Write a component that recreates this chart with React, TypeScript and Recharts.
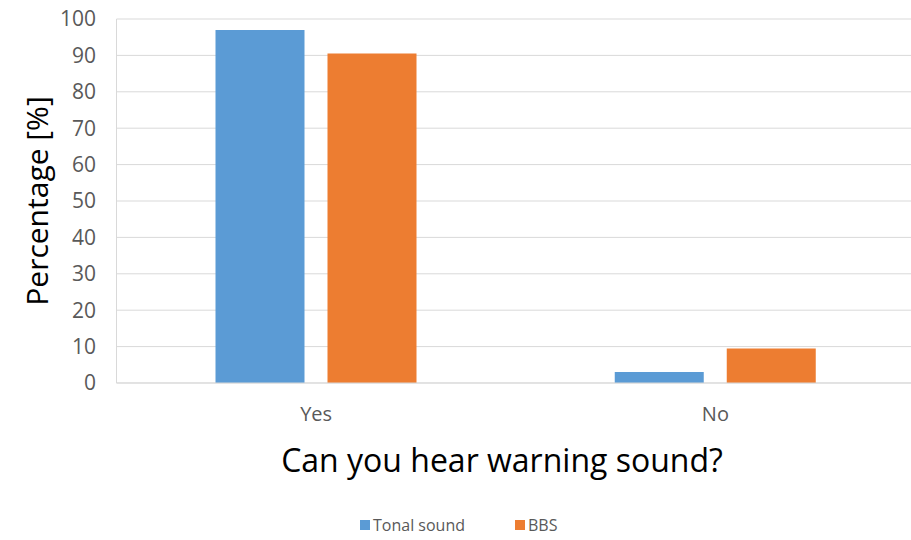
import { BarChart, Bar, XAxis, YAxis, CartesianGrid, Legend } from "recharts";

const categories = ["Yes", "No"];
const tonalSound = [97, 3];
const bbs = [90.5, 9.5];
const yTicks = [0, 10, 20, 30, 40, 50, 60, 70, 80, 90, 100];

const BLUE = "#5b9bd5";
const ORANGE = "#ed7d31";
const GRID = "#d9d9d9";
const INK = "#595959";
const FONT = "'Open Sans', 'Noto Sans', sans-serif";

const data = categories.map((c, i) => ({ answer: c, tonal: tonalSound[i], bbs: bbs[i] }));

function LegendContent() {
  const items = [
    { name: "Tonal sound", color: BLUE },
    { name: "BBS", color: ORANGE },
  ];
  return (
    <div style={{ display: "flex", paddingLeft: 360, paddingTop: 14, fontFamily: FONT, fontSize: 16, color: INK }}>
      {items.map((it) => (
        <div key={it.name} style={{ display: "flex", alignItems: "center", marginRight: 50 }}>
          <span style={{ width: 10, height: 10, background: it.color, marginRight: 3, display: "inline-block" }} />
          <span>{it.name}</span>
        </div>
      ))}
    </div>
  );
}

export default function App() {
  return (
    <div style={{ position: "absolute", left: 0, top: 0, width: 911, height: 540, overflow: "hidden", background: "#fff" }}>
      <BarChart
        width={915}
        height={540}
        data={data}
        margin={{ top: 19, right: 0, left: 0, bottom: 0 }}
        barSize={89}
        barGap={23}
      >
        <CartesianGrid vertical={false} stroke={GRID} />
        <XAxis
          dataKey="answer"
          height={117}
          axisLine={{ stroke: GRID }}
          tickLine={false}
          tickMargin={18}
          tick={{ fontSize: 20, fill: INK, fontFamily: FONT }}
          label={({ viewBox }: any) => (
            <text
              x={502}
              y={viewBox.y + 76}
              textAnchor="middle"
              dominantBaseline="central"
              fontSize={32}
              fontFamily={FONT}
              fill="#000"
            >
              Can you hear warning sound?
            </text>
          )}
        />
        <YAxis
          width={116.5}
          domain={[0, 100]}
          ticks={yTicks}
          interval={0}
          axisLine={{ stroke: GRID }}
          tickLine={false}
          tickMargin={14.5}
          tick={{ fontSize: 21, fill: INK, fontFamily: FONT }}
          label={({ viewBox }: any) => (
            <text
              x={36}
              y={viewBox.y + viewBox.height / 2}
              textAnchor="middle"
              dominantBaseline="central"
              transform={`rotate(-90, 36, ${viewBox.y + viewBox.height / 2})`}
              fontSize={30}
              fontFamily={FONT}
              fill="#000"
            >
              Percentage [%]
            </text>
          )}
        />
        <Legend verticalAlign="bottom" height={40} content={<LegendContent />} wrapperStyle={{ left: 0, bottom: 0, width: 911 }} />
        <Bar dataKey="tonal" name="Tonal sound" fill={BLUE} isAnimationActive={false} />
        <Bar dataKey="bbs" name="BBS" fill={ORANGE} isAnimationActive={false} />
      </BarChart>
    </div>
  );
}
